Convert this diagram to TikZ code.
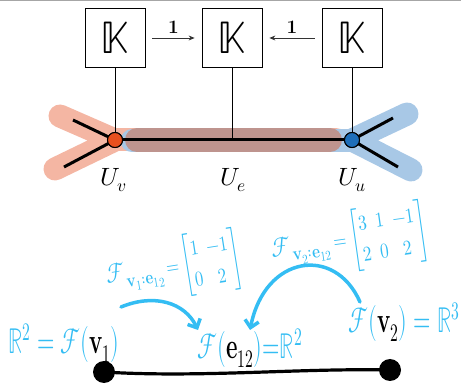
\documentclass[tikz,border=0pt]{standalone}
\usepackage{amsmath}
\usepackage{unicode-math}
\setmathfont{Latin Modern Math}
\usetikzlibrary{arrows.meta}
\definecolor{hand}{RGB}{52,189,243}
\definecolor{redblob}{RGB}{244,182,163}
\definecolor{blueblob}{RGB}{168,200,230}
\definecolor{midblob}{RGB}{190,148,142}
\definecolor{rednode}{RGB}{232,80,30}
\definecolor{bluenode}{RGB}{30,110,185}
\newcommand{\hsq}[1]{\scalebox{0.62}[1]{#1}}
\begin{document}
\begin{tikzpicture}[x=1pt,y=-1pt,
  kbox/.style={draw, line width=0.8pt, minimum width=60pt, minimum height=59pt, inner sep=0pt, font=\fontsize{46}{46}\selectfont},
  karrow/.style={draw=black!80, line width=0.8pt, -{Stealth[length=6pt,width=5pt]}},
  onelabel/.style={font=\fontsize{19}{19}\selectfont\bfseries},
  vnode/.style={circle, draw=black, line width=1pt, minimum size=15pt, inner sep=0pt},
  ulabel/.style={font=\fontsize{25}{25}\selectfont},
  blob/.style={line width=23pt, line cap=round, line join=round},
  handtext/.style={text=hand, font=\fontsize{36}{36}\selectfont},
  handsmall/.style={text=hand, font=\fontsize{21}{21}\selectfont},
  handarrow/.style={draw=hand, line width=3.5pt, line cap=round, -{Straight Barb[length=7pt,width=14pt,line width=3.5pt]}},
  bnode/.style={circle, fill=black, minimum size=22pt, inner sep=0pt}
]
\useasboundingbox (0,0) rectangle (461,390);
\draw[black!35, line width=1.2pt] (0,0.6) -- (461,0.6);

% blobs
\draw[blob, redblob] (60,116) -- (115,140) -- (55,169);
\draw[blob, redblob] (115,140) -- (336,140);
\draw[blob, blueblob] (407,114) -- (352,140) -- (411,170);
\draw[blob, blueblob] (352,141) -- (132,141);
\draw[midblob, line width=24pt, line cap=round] (137,140) -- (330,140);

% graph edges
\coordinate (ve) at (232,140);
\node[vnode, fill=rednode] (nv) at (115,140) {};
\node[vnode, fill=bluenode] (nu) at (352,140) {};
\coordinate (l1) at (73,120);
\coordinate (l2) at (64,167);
\coordinate (r1) at (393,118);
\coordinate (r2) at (398,167);
\draw[line width=3pt] (l1) -- (nv.center) -- (l2);
\draw[line width=3pt] (r1) -- (nu.center) -- (r2);
\draw[line width=3pt] (nv) -- (nu);
\node[vnode, fill=rednode] at (nv) {};
\node[vnode, fill=bluenode] at (nu) {};

% boxes
\node[kbox] (k1) at (115,38) {$\mathbb{K}$};
\node[kbox] (k2) at (232,38) {$\mathbb{K}$};
\node[kbox] (k3) at (352,38) {$\mathbb{K}$};
\draw[line width=0.8pt] (k1.south) -- (nv.north);
\draw[line width=0.8pt] (k2.south) -- (ve);
\draw[line width=0.8pt] (k3.south) -- (nu.north);
\draw[karrow, shorten <=7pt, shorten >=7pt] (k1.east) -- (k2.west) node[onelabel, midway, above=1pt] {1};
\draw[karrow, shorten <=7pt, shorten >=7pt] (k3.west) -- (k2.east) node[onelabel, midway, above=1pt] {1};

\node[ulabel] (uv) at (114,180) {$U_v$};
\node[ulabel] (ue) at (233,180) {$U_e$};
\node[ulabel] (uu) at (352,180) {$U_u$};

% bottom sheaf picture
\node[bnode] (b1) at (104,372) {};
\node[bnode] (b2) at (390,370) {};
\draw[line width=3.2pt] (b1.center) .. controls (200,378) and (300,368) .. (b2.center);

\node[handtext] (t1) at (64,343) {\hsq{$\mathbb{R}^2 = \mathcal{F}(\textcolor{black}{\mathbf{v}_1})$}};
\node[handtext] (t2) at (250,348) {\hsq{$\mathcal{F}(\textcolor{black}{\mathbf{e}_{12}}){=}\mathbb{R}^2$}};
\node[handtext] (t3) at (404,322) {\hsq{$\mathcal{F}(\textcolor{black}{\mathbf{v}_2}) = \mathbb{R}^3$}};

\node[handsmall, rotate=9] (m1) at (174,268) {\scalebox{0.8}[1]{{\fontsize{27}{27}\selectfont$\mathcal{F}_{\mathbf{v}_1:\mathbf{e}_{12}}$}$\,{=}\renewcommand{\arraystretch}{1.5}\begin{bmatrix}1 & -1\\ 0 & 2\end{bmatrix}$}};
\node[handsmall, rotate=8] (m2) at (350,241) {\scalebox{0.82}[1]{{\fontsize{27}{27}\selectfont$\mathcal{F}_{\mathbf{v}_2:\mathbf{e}_{12}}$}$\,{=}\renewcommand{\arraystretch}{1.5}\begin{bmatrix}3 & 1 & -1\\ 2 & 0 & 2\end{bmatrix}$}};

\coordinate (a1s) at (121,307);
\coordinate (a1e) at (198,330);
\coordinate (a2s) at (360,302);
\coordinate (a2e) at (250,330);
\draw[handarrow] (a1s) .. controls (155,293) and (185,303) .. (a1e);
\draw[handarrow] (a2s) .. controls (335,245) and (265,255) .. (a2e);
\end{tikzpicture}
\end{document}
